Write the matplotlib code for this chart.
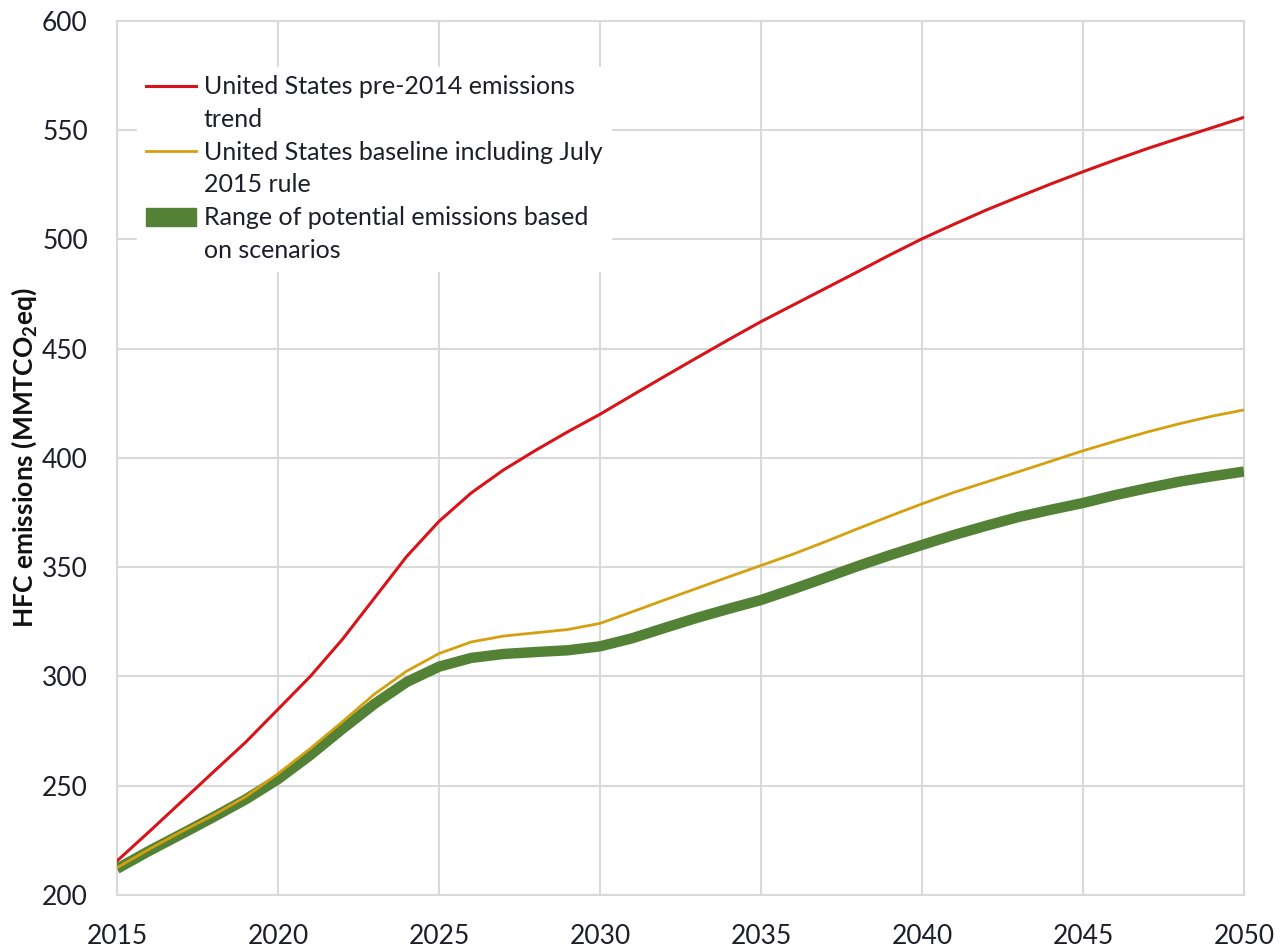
import matplotlib
matplotlib.use("Agg")
import matplotlib.pyplot as plt
from matplotlib.patches import Patch
from matplotlib.lines import Line2D
from matplotlib.legend_handler import HandlerLine2D, HandlerPatch
from matplotlib.transforms import Affine2D

plt.rcParams['font.family'] = ['Lato', 'DejaVu Sans']
plt.rcParams['mathtext.fontset'] = 'custom'
plt.rcParams['mathtext.bf'] = 'Lato:bold'

# values (MMTCO2eq)
years = list(range(2015, 2051))
pre2014_trend = [215.6, 229, 242.7, 256.4, 270, 285, 300, 317, 336, 355,
                 371, 384, 394.5, 403.5, 412, 420, 428.7, 437.3, 445.8, 454.2,
                 462.4, 470, 477.6, 485.2, 492.9, 500.3, 507, 513.5, 519.5, 525.4,
                 531, 536.4, 541.6, 546.4, 551.1, 555.9]
baseline_2015 = [212.5, 221, 229, 236.6, 245, 255.5, 267, 279.3, 292, 302.5,
                 310.5, 315.8, 318.5, 320, 321.5, 324.3, 329.6, 335, 340.3, 345.6,
                 350.8, 356, 361.7, 367.6, 373.4, 379, 384.3, 389, 393.7, 398.5,
                 403.3, 407.7, 411.9, 415.7, 419.1, 422]
scenario_range = [212, 220.2, 227.9, 235.7, 243.8, 253, 264, 276, 287.5, 297.5,
                  304.5, 308.5, 310.3, 311.2, 312, 313.8, 317.5, 322.2, 326.8, 331,
                  335, 340, 345.2, 350.5, 355.5, 360.2, 364.8, 369, 373, 376.3,
                  379.4, 383, 386.2, 389.2, 391.6, 393.8]

labels = ["United States pre-2014 emissions\ntrend",
          "United States baseline including July\n2015 rule",
          "Range of potential emissions based\non scenarios"]

red = '#d7141a'
gold = '#d4a010'
green = '#538135'
grid_c = '#d9d9d9'
txt = '#1e1e2a'


# put the legend key next to the first line of a two-line label
class TopLine(HandlerLine2D):
    def create_artists(self, legend, orig_handle, xdescent, ydescent,
                       width, height, fontsize, trans):
        trans = Affine2D().translate(0, 0.72 * fontsize) + trans
        return super().create_artists(legend, orig_handle, xdescent, ydescent,
                                      width, height, fontsize, trans)


class TopPatch(HandlerPatch):
    def create_artists(self, legend, orig_handle, xdescent, ydescent,
                       width, height, fontsize, trans):
        trans = Affine2D().translate(0, 0.72 * fontsize) + trans
        return super().create_artists(legend, orig_handle, xdescent, ydescent,
                                      width, height, fontsize, trans)


fig = plt.figure(figsize=(12.86, 9.49), dpi=100)
ax = fig.add_axes([0.091, 0.0569, 0.8763, 0.921])

ax.plot(years, scenario_range, color=green, lw=7.5, solid_capstyle='butt', zorder=3)
ax.plot(years, baseline_2015, color=gold, lw=2.0, zorder=4)
ax.plot(years, pre2014_trend, color=red, lw=2.2, zorder=5)

ax.set_xlim(2015, 2050)
ax.set_ylim(200, 600)
ax.set_xticks(range(2015, 2051, 5))
ax.set_yticks(range(200, 601, 50))
ax.grid(True, color=grid_c, lw=1.5)
ax.set_axisbelow(True)
for s in ax.spines.values():
    s.set_color(grid_c)
    s.set_linewidth(1.5)
ax.tick_params(axis='both', length=0, labelsize=19, colors=txt)
ax.tick_params(axis='x', pad=21)
ax.tick_params(axis='y', pad=21)

ax.set_ylabel(r'HFC emissions (MMTCO$_\mathbf{2}$eq)', fontsize=19,
              fontweight='bold', color='#111111', labelpad=2)

h_red = Line2D([], [], color=red, lw=2.2)
h_gold = Line2D([], [], color=gold, lw=2.0)
h_green = Patch(facecolor=green, edgecolor=green)
leg = ax.legend([h_red, h_gold, h_green], labels, loc='upper left',
                bbox_to_anchor=(0.007, 0.962),
                handler_map={Line2D: TopLine(), Patch: TopPatch()},
                fontsize=18, frameon=True, fancybox=False, framealpha=1,
                edgecolor='white', handlelength=2.0, handleheight=0.7,
                handletextpad=0.3, labelspacing=0.4, borderpad=0.35)
for t in leg.get_texts():
    t.set_color(txt)
    t.set_linespacing(1.5)

fig.savefig('out.png', dpi=100)
